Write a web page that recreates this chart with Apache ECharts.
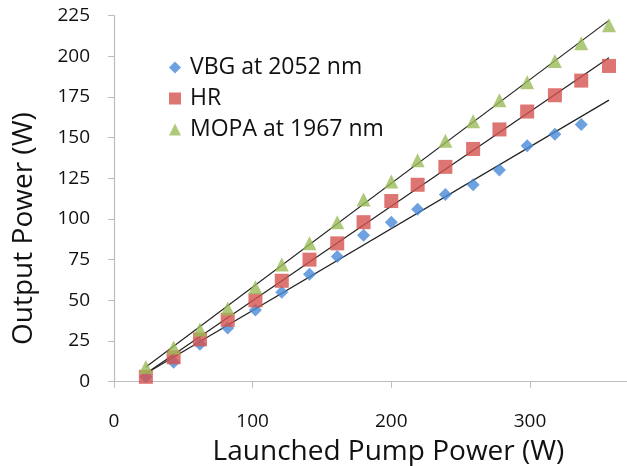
<!DOCTYPE html>
<html>
<head>
<meta charset="utf-8">
<script src="https://cdn.jsdelivr.net/npm/echarts@6/dist/echarts.min.js"></script>
<style>
  html, body { margin: 0; padding: 0; background: #fff; }
  #chart { width: 627px; height: 466px; }
</style>
</head>
<body>
<div id="chart"></div>
<script>
// launched pump power (W)
const pumpPower = [23, 43, 62, 82, 102, 121, 141, 161, 180, 200, 219, 239, 259, 278, 298, 318, 337, 357]

// output power (W)
const vbgPower = [3, 12, 23, 33, 44, 55, 66, 77, 90, 98, 106, 115, 121, 130, 145, 152, 158]
const hrPower = [3, 15, 26, 38, 50, 62, 75, 85, 98, 111, 121, 132, 143, 155, 166, 176, 185, 194]
const mopaPower = [9, 21, 32, 45, 58, 72, 85, 98, 112, 123, 136, 148, 160, 173, 184, 197, 208, 219]

// linear fit end points [x, y]
const vbgFit = [[23, 5], [357, 173]]
const hrFit = [[23, 5], [357, 199]]
const mopaFit = [[23, 9], [357, 222]]

const xTicks = [0, 100, 200, 300]

const names = ['VBG at 2052 nm', 'HR', 'MOPA at 1967 nm']
const colors = ['#4a8ad8', '#d5524f', '#9bbb59']

const pairs = (ys) => ys.map((y, i) => [pumpPower[i], y])

const font = '"Open Sans", sans-serif'

const chart = echarts.init(document.getElementById('chart'))

const fitLine = (data) => ({
  type: 'line',
  data: data,
  symbol: 'none',
  silent: true,
  lineStyle: { color: '#222', width: 1.2 },
  z: 1
})

chart.setOption({
  animation: false,
  textStyle: { fontFamily: font },
  grid: { left: 114, right: 0, top: 15.5, bottom: 84.3, outerBoundsMode: 'none' },
  legend: {
    orient: 'vertical',
    left: 164,
    top: 51,
    itemGap: 8,
    itemWidth: 12,
    itemHeight: 12,
    textStyle: { fontSize: 23, color: '#111', fontFamily: font, padding: [0, 0, 0, 4] },
    data: [
      { name: names[0], icon: 'diamond' },
      { name: names[1], icon: 'rect' },
      { name: names[2], icon: 'triangle' }
    ]
  },
  xAxis: {
    type: 'value',
    min: 0,
    max: 370,
    interval: 100,
    name: 'Launched Pump Power (W)',
    nameLocation: 'middle',
    nameGap: 56,
    nameTextStyle: { fontSize: 28, color: '#111', fontFamily: font, padding: [0, 0, 0, 36] },
    axisLine: { show: true, lineStyle: { color: '#bdbdbd', width: 1.2 } },
    axisTick: { show: true, length: 6, customValues: xTicks, lineStyle: { color: '#bdbdbd' } },
    axisLabel: { fontSize: 19, color: '#111', margin: 30, customValues: xTicks },
    splitLine: { show: false }
  },
  yAxis: {
    type: 'value',
    min: 0,
    max: 225,
    interval: 25,
    name: 'Output Power (W)',
    nameLocation: 'middle',
    nameGap: 76,
    nameTextStyle: { fontSize: 28, color: '#111', fontFamily: font, padding: [0, 60, 0, 0] },
    axisLine: { show: true, lineStyle: { color: '#bdbdbd', width: 1.2 } },
    axisTick: { show: true, length: 6, lineStyle: { color: '#bdbdbd' } },
    axisLabel: { fontSize: 19, color: '#111', margin: 24 },
    splitLine: { show: false }
  },
  series: [
    {
      name: names[0], type: 'scatter', symbol: 'diamond', symbolSize: 13,
      itemStyle: { color: colors[0] }, data: pairs(vbgPower), z: 2
    },
    {
      name: names[1], type: 'scatter', symbol: 'rect', symbolSize: 14,
      itemStyle: { color: colors[1] }, data: pairs(hrPower), z: 2
    },
    {
      name: names[2], type: 'scatter', symbol: 'triangle', symbolSize: 14,
      itemStyle: { color: colors[2] }, data: pairs(mopaPower), z: 2
    },
    fitLine(vbgFit),
    fitLine(hrFit),
    fitLine(mopaFit)
  ]
})
</script>
</body>
</html>
